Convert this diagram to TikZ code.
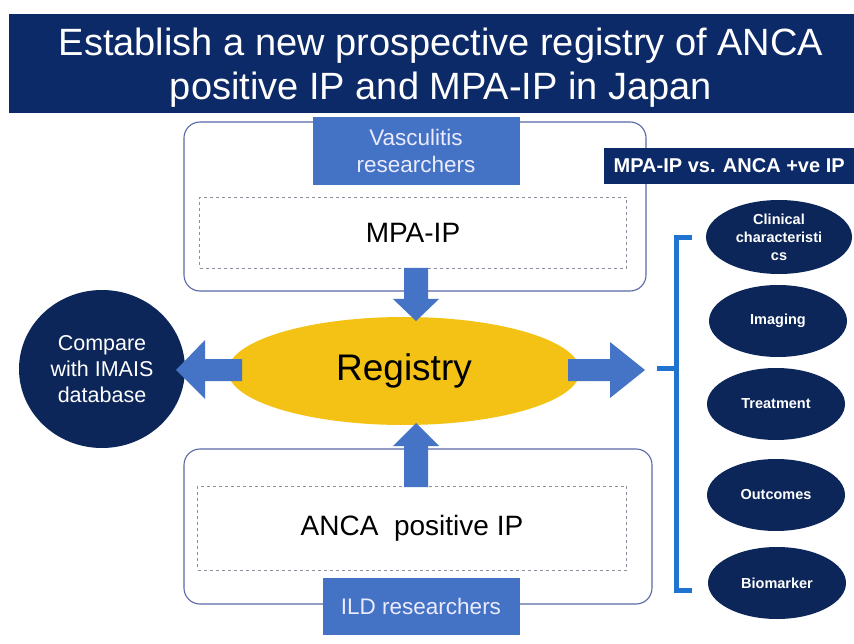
\documentclass[tikz,border=0pt]{standalone}
\usepackage{fontspec}
\setmainfont{Liberation Sans}
\usetikzlibrary{shapes.geometric}
\definecolor{navy}{HTML}{0D2A68}
\definecolor{dnavy}{HTML}{0C2659}
\definecolor{midblue}{HTML}{4472C4}
\definecolor{arrblue}{HTML}{4574C6}
\definecolor{brblue}{HTML}{1F74CF}
\definecolor{boxline}{HTML}{5A68A6}
\definecolor{dashgray}{HTML}{8A8FA0}
\definecolor{gold}{HTML}{F3C214}
\begin{document}
\begin{tikzpicture}[x=1pt,y=-1pt,
  outerbox/.style={draw=boxline,line width=1.1pt,rounded corners=16pt,fill=white},
  dashbox/.style={draw=dashgray,dashed,line width=1pt},
  bluetag/.style={fill=midblue,text=white!92!blue,font=\fontsize{22.5}{27}\selectfont,align=center,inner sep=0pt},
  navyell/.style={ellipse,fill=dnavy,text=white,font=\bfseries\fontsize{14.5}{18}\selectfont,align=center,inner sep=0pt,minimum width=138pt,minimum height=72pt},
  fatarrow/.style={fill=arrblue}
]
\useasboundingbox (0,0) rectangle (854,644);
\fill[white] (0,0) rectangle (854,644);
% title banner
\node[fill=navy,minimum width=846pt,minimum height=99pt,inner sep=0pt,anchor=north west] (title) at (9,14) {};
\node[text=white,font=\fontsize{38}{44}\selectfont,align=center] (titletext) at (441,68) {Establish a new prospective registry of ANCA\\positive IP and MPA-IP in Japan};
% top box
\draw[outerbox] (184,122) rectangle (646,291);
\node (topbox) at (415,206) {};
\node[bluetag,minimum width=207pt,minimum height=68pt] (vasc) at (416,151) {Vasculitis\\researchers};
\node[dashbox,minimum width=427pt,minimum height=71pt,font=\fontsize{28}{32}\selectfont] (mpa) at (413,233) {MPA-IP};
% bottom box
\draw[outerbox] (184,449) rectangle (652,604);
\node[dashbox,minimum width=429pt,minimum height=84pt,font=\fontsize{28}{32}\selectfont] (anca) at (412,528) {ANCA\ \ positive IP};
\node[bluetag,minimum width=197pt,minimum height=57pt] (ild) at (421,606) {ILD researchers};
% registry
\node[ellipse,fill=gold,minimum width=352pt,minimum height=108pt,inner sep=0pt,font=\fontsize{37}{42}\selectfont] (reg) at (404,371) {Registry};
% compare circle
\node[ellipse,fill=dnavy,text=white,minimum width=166pt,minimum height=158pt,align=center,inner sep=0pt,font=\fontsize{21.5}{26}\selectfont] (cmp) at (102,369) {Compare\\with IMAIS\\database};
% block arrows
\fill[fatarrow] (404,268) -- (428,268) -- (428,299) -- (439,299) -- (416,321) -- (393,299) -- (404,299) -- cycle;
\fill[fatarrow] (404,487) -- (428,487) -- (428,446) -- (439,446) -- (416,423) -- (393,446) -- (404,446) -- cycle;
\fill[fatarrow] (242,359) -- (205,359) -- (205,340) -- (176,370) -- (205,399) -- (205,381) -- (242,381) -- cycle;
\fill[fatarrow] (568,359) -- (610,359) -- (610,342) -- (645,370) -- (610,398) -- (610,381) -- (568,381) -- cycle;
% heading right
\node[fill=navy,text=white,font=\bfseries\fontsize{20}{24}\selectfont,minimum width=250pt,minimum height=36pt,inner sep=0pt,anchor=west] (vs) at (604,166) {MPA-IP vs. ANCA +ve IP};
% bracket
\coordinate (btop) at (676,238);
\coordinate (bbot) at (676,590);
\coordinate (bmid) at (676,368);
\draw[brblue,line width=5pt] (692,238) -- (btop) -- (bbot) -- (692,590);
\draw[brblue,line width=5pt] (bmid) -- (657,368);
% ellipses
\node[navyell,minimum height=74pt,minimum width=146pt] (clin) at (779,237) {Clinical\\characteristi\\cs};
\node[navyell] (img) at (778,321) {Imaging};
\node[navyell] (trt) at (776,404) {Treatment};
\node[navyell] (out) at (776,495) {Outcomes};
\node[navyell] (bio) at (777,583) {Biomarker};
\end{tikzpicture}
\end{document}
